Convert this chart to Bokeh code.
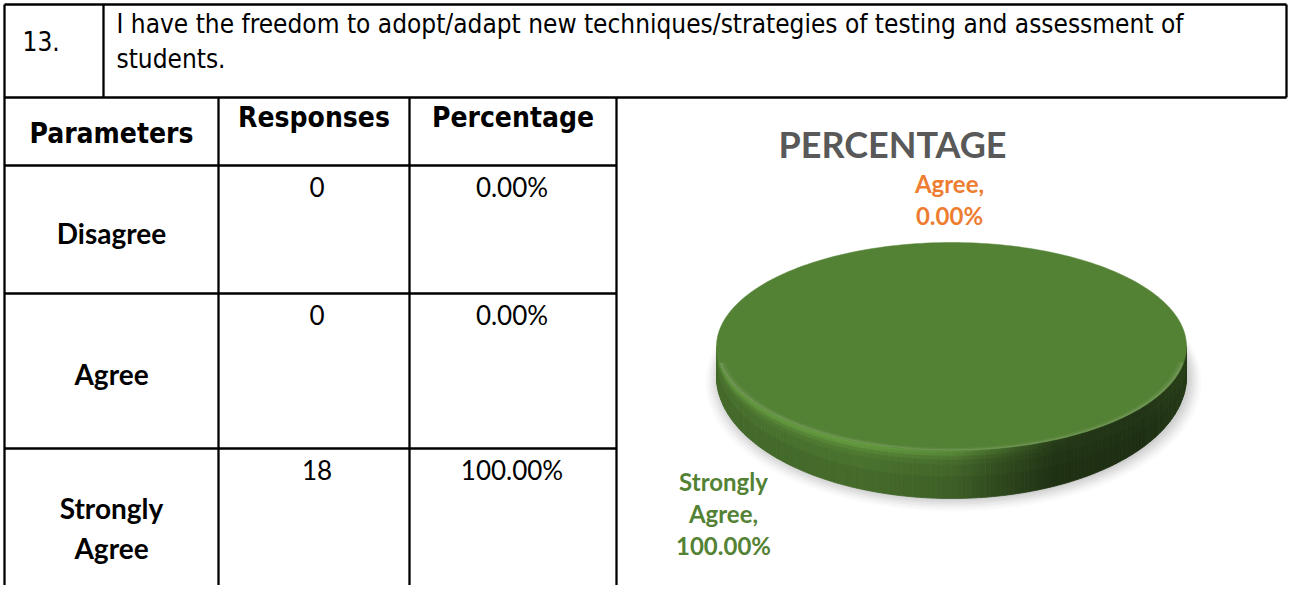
import numpy as np
from bokeh.plotting import figure
from bokeh.models import Range1d
from bokeh.core.properties import value
from bokeh.embed import file_html
from bokeh.resources import INLINE

# ---------------- data ----------------
question_number = "13."
question_lines = [
    "I have the freedom to adopt/adapt new techniques/strategies of testing and assessment of",
    "students.",
]
columns = ["Parameters", "Responses", "Percentage"]
parameters = ["Disagree", "Agree", "Strongly Agree"]
responses = [0, 0, 18]
percentages = [0.0, 0.0, 100.0]
chart_title = "PERCENTAGE"
slice_colors = ["#4472C4", "#ED7D31", "#548235"]
label_colors = ["#4472C4", "#ED7D31", "#548235"]
show_label = [False, True, True]

# ---------------- layout (reference pixel space) ----------------
PW, PH = 1288, 585
X_LEFT, Y_TOP, X_NUM, Y_Q, X_RIGHT = 4, 4, 103, 97, 1286
COLS = [X_LEFT, 218, 409, 616]
ROWS = [97, 165, 293, 448, 601]

QFONT = "DejaVu Sans Condensed"
CFONT = "Lato"

p = figure(width=PW, height=PH,
           x_range=Range1d(0, PW), y_range=Range1d(PH, 0),
           output_backend="svg", toolbar_location=None,
           x_axis_location=None, y_axis_location=None,
           min_border=0, min_border_left=0, min_border_right=0,
           min_border_top=0, min_border_bottom=0)
p.grid.visible = False
p.outline_line_color = None
p.background_fill_color = "white"
p.border_fill_color = "white"

# ---------------- table lines ----------------
x0s, y0s, x1s, y1s = [], [], [], []
def seg(a, b, c, d):
    x0s.append(a); y0s.append(b); x1s.append(c); y1s.append(d)

seg(X_LEFT, Y_TOP, X_RIGHT, Y_TOP)
seg(X_LEFT, Y_Q, X_RIGHT, Y_Q)
seg(X_LEFT, Y_TOP, X_LEFT, ROWS[-1])
seg(X_NUM, Y_TOP, X_NUM, Y_Q)
seg(X_RIGHT, Y_TOP, X_RIGHT, Y_Q)
for cx_ in COLS[1:]:
    seg(cx_, Y_Q, cx_, ROWS[-1])
for ry_ in ROWS[1:-1]:
    seg(X_LEFT, ry_, COLS[-1], ry_)
p.segment(x0s, y0s, x1s, y1s, line_color="black", line_width=2.3)

# ---------------- question text ----------------
p.text([22], [40], text=[question_number], text_font=value(QFONT),
       text_font_size="26px", text_baseline="middle", text_align="left", text_color="black")
p.text([116] * len(question_lines), [23 + 35 * i for i in range(len(question_lines))],
       text=question_lines, text_font=value(QFONT), text_font_size="26px",
       text_baseline="middle", text_align="left", text_color="black")

# ---------------- header ----------------
col_centers = [(COLS[i] + COLS[i + 1]) / 2 for i in range(3)]
header_y = [133, 117, 117]
p.text(col_centers, header_y, text=columns, text_font=value(QFONT),
       text_font_size="28px", text_font_style="bold", text_baseline="middle",
       text_align="center", text_color="black")

# ---------------- body ----------------
lx, ly, lt = [], [], []
vx, vy, vt = [], [], []
for i, name in enumerate(parameters):
    top, bot = ROWS[i + 1], ROWS[i + 2]
    mid = (top + bot) / 2 + 3
    words = name.split(" ")
    for j, w in enumerate(words):
        lx.append(col_centers[0]); ly.append(mid + (j - (len(words) - 1) / 2) * 40); lt.append(w)
    vx += [col_centers[1] + 3, col_centers[2] - 1]
    vy += [top + 21, top + 21]
    vt += [str(responses[i]), f"{percentages[i]:.2f}%"]
p.text(lx, ly, text=lt, text_font=value(CFONT), text_font_size="28px",
       text_font_style="bold", text_baseline="middle", text_align="center", text_color="black")
p.text(vx, vy, text=vt, text_font=value(CFONT), text_font_size="26px",
       text_baseline="middle", text_align="center", text_color="black")

# ---------------- 3D pie (perspective: deeper front) ----------------
cx, cy, rx, ry = 951, 346, 235, 104
d_edge, ry_bot = 30, 122

def hex2rgb(h):
    h = h.lstrip("#"); return np.array([int(h[k:k + 2], 16) for k in (0, 2, 4)], float)

def rgb2hex(c):
    c = np.clip(c, 0, 255).astype(int); return "#%02x%02x%02x" % tuple(c)

def top_pt(t, s=1.0):
    return cx + rx * s * np.sin(t), cy - ry * s * np.cos(t)

def bot_pt(t, s=1.0, sy=1.0):
    return cx + rx * s * np.sin(t), cy + d_edge - ry_bot * sy * np.cos(t)

# soft shadow under the disc
t_all = np.linspace(0, 2 * np.pi, 160)
for k, a in enumerate([0.02, 0.025, 0.03, 0.035, 0.04, 0.045]):
    s = 1.055 - 0.01 * k
    sx_, sy_ = bot_pt(t_all, s, s)
    p.patch(sx_ + 2, sy_ + 6 - k, fill_color="black", fill_alpha=a, line_color=None)

vals = np.array(percentages, float)
fr = vals / vals.sum()
ends = np.cumsum(fr) * 2 * np.pi
starts = ends - fr * 2 * np.pi

# side shading: horizontal light falloff + vertical bevel highlight
stops_t = [0.0, 0.3, 0.5, 0.6, 0.72, 0.9, 1.0]
stops_f = [0.9, 0.92, 0.82, 0.62, 0.42, 0.4, 0.5]
band_fr = [0.0, 0.05, 0.12, 0.2, 0.3, 0.55, 1.0]
band_f = [1.32, 1.25, 1.12, 1.02, 0.96, 0.9]

xs_side, ys_side, cols_side = [], [], []
for i in range(len(vals)):
    if fr[i] <= 0:
        continue
    a0 = max(starts[i], np.pi / 2)
    a1 = min(ends[i], 3 * np.pi / 2)
    if a1 <= a0:
        continue
    base = hex2rgb(slice_colors[i])
    n = 150
    ts = np.linspace(a0, a1, n + 1)
    for k in range(n):
        ta, tb = ts[k], ts[k + 1]
        xa, ya0 = top_pt(ta); xb, yb0 = top_pt(tb)
        _, ya1 = bot_pt(ta); _, yb1 = bot_pt(tb)
        hpos = (((xa + xb) / 2) - (cx - rx)) / (2 * rx)
        f = np.interp(hpos, stops_t, stops_f)
        for b in range(len(band_f)):
            f0, f1 = band_fr[b], band_fr[b + 1]
            bf = band_f[b]
            if b < 3 and hpos > 0.6:
                bf = 1.0 + (bf - 1.0) * max(0.0, 1 - (hpos - 0.6) / 0.2)
            xs_side.append([xa, xb, xb, xa])
            ys_side.append([ya0 + f0 * (ya1 - ya0), yb0 + f0 * (yb1 - yb0),
                            yb0 + f1 * (yb1 - yb0), ya0 + f1 * (ya1 - ya0)])
            cols_side.append(rgb2hex(base * f * bf))
p.patches(xs_side, ys_side, fill_color=cols_side, line_color=cols_side, line_width=0.8)

# top faces
for i in range(len(vals)):
    if fr[i] <= 0:
        continue
    t = np.linspace(starts[i], ends[i], 240)
    px, py = top_pt(t)
    if fr[i] < 1:
        px = np.concatenate([[cx], px]); py = np.concatenate([[cy], py])
    p.patch(px, py, fill_color=slice_colors[i], line_color=slice_colors[i], line_width=0.5)
    for s, a in [(0.988, 0.10), (0.975, 0.05)]:
        tt = np.linspace(max(starts[i], np.pi * 0.55), min(ends[i], np.pi * 1.45), 120)
        ox, oy = top_pt(tt)
        ix, iy = top_pt(tt[::-1], s)
        p.patch(np.concatenate([ox, ix]), np.concatenate([oy, iy]),
                fill_color="white", fill_alpha=a, line_color=None)

# title
p.text([892], [143], text=[chart_title], text_font=value(CFONT), text_font_size="36px",
       text_font_style="bold", text_baseline="middle", text_align="center", text_color="#595959")

# data labels
label_pos = {1: (949, 183), 2: (723, 481)}
plx, ply, plt_, plc = [], [], [], []
for i in range(len(vals)):
    if not show_label[i]:
        continue
    x_, y_ = label_pos[i]
    lines = parameters[i].split(" ")
    lines[-1] = lines[-1] + ","
    lines.append(f"{percentages[i]:.2f}%")
    for j, s in enumerate(lines):
        plx.append(x_); ply.append(y_ + j * 32); plt_.append(s); plc.append(label_colors[i])
p.text(plx, ply, text=plt_, text_font=value(CFONT), text_font_size="24px",
       text_font_style="bold", text_baseline="middle", text_align="center", text_color=plc)

open("out.html", "w").write(file_html(p, INLINE))
